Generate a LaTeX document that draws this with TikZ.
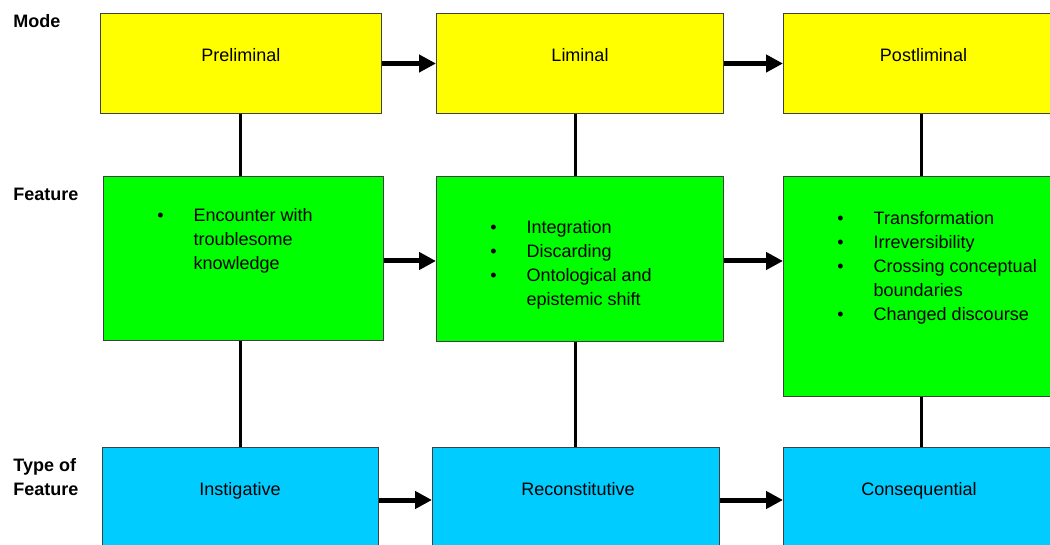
\documentclass[tikz,border=0pt]{standalone}
\usepackage{fontspec}
\setmainfont{Liberation Sans}
\usetikzlibrary{arrows.meta}

\definecolor{modeyellow}{RGB}{255,255,0}
\definecolor{featgreen}{RGB}{0,255,0}
\definecolor{typeblue}{RGB}{0,204,255}

\begin{document}
\begin{tikzpicture}[x = 0.5pt, y = -0.5pt,
  font = \fontsize{9}{12}\selectfont,
  box/.style = {draw=black!75, line width=0.5pt, inner sep=0pt, anchor=north west},
  modebox/.style = {box, fill=modeyellow, minimum height=50pt, text height=7pt, text depth=8.5pt},
  featbox/.style = {box, fill=featgreen},
  typebox/.style = {box, fill=typeblue, minimum height=64pt},
  rowlabel/.style = {font=\fontsize{9}{12}\selectfont\bfseries, anchor=west, align=left, inner sep=0pt},
  listtext/.style = {anchor=base west, inner sep=0pt},
  typetext/.style = {anchor=base, inner sep=0pt},
  link/.style = {line width=1.5pt},
  flow/.style = {line width=2.5pt, -{Triangle[length=8.5pt, width=8.5pt]}}]

% Picture size (in pixels of the original)
\useasboundingbox (0,0) rectangle (1050,545);

% Reference points for the connectors
\coordinate (col1)     at (240, 0);
\coordinate (col2)     at (575, 0);
\coordinate (col3)     at (921, 0);
\coordinate (feat row) at (0, 261);
\coordinate (type row) at (0, 500);

% Row labels
\node[rowlabel] (mode label) at (13, 21)  {Mode};
\node[rowlabel] (feat label) at (13, 194) {Feature};
\node[rowlabel] (type label) at (13, 477) {Type of\\Feature};

% Modes
\node[modebox, minimum width=140.5pt] (prelim)  at (100, 13) {Preliminal};
\node[modebox, minimum width=143.5pt] (liminal) at (436, 13) {Liminal};
\node[modebox, minimum width=140pt]   (postlim) at (783, 13) {Postliminal};

% Features
\node[featbox, minimum width=140pt,   minimum height=82pt]  (feat1) at (103, 176) {};
\node[featbox, minimum width=143.5pt, minimum height=82.5pt] (feat2) at (436, 176) {};
\node[featbox, minimum width=140pt,   minimum height=110pt] (feat3) at (783, 176) {};

\node[listtext] (feat1 text) at (157, 222) {%
  \begin{tabular}[t]{@{}l@{\hspace{15pt}}l@{}}
  \textbullet & Encounter with\\
              & troublesome\\
              & knowledge
  \end{tabular}};
\node[listtext] (feat2 text) at (490, 234) {%
  \begin{tabular}[t]{@{}l@{\hspace{15pt}}l@{}}
  \textbullet & Integration\\
  \textbullet & Discarding\\
  \textbullet & Ontological and\\
              & epistemic shift
  \end{tabular}};
\node[listtext] (feat3 text) at (837, 225) {%
  \begin{tabular}[t]{@{}l@{\hspace{15pt}}l@{}}
  \textbullet & Transformation\\
  \textbullet & Irreversibility\\
  \textbullet & Crossing conceptual\\
              & boundaries\\
  \textbullet & Changed discourse
  \end{tabular}};

% Types of feature (boxes run past the lower edge)
\node[typebox, minimum width=138pt]   (instig box) at (102, 447) {};
\node[typebox, minimum width=143.5pt] (recon box)  at (432, 447) {};
\node[typebox, minimum width=140pt]   (conseq box) at (783, 447) {};

\node[typetext] (instig) at (240, 495) {Instigative};
\node[typetext] (recon)  at (578, 495) {Reconstitutive};
\node[typetext] (conseq) at (919, 495) {Consequential};

% Vertical links
\draw[link] (prelim.south -| col1)  -- (feat1.north -| col1);
\draw[link] (feat1.south -| col1)   -- (instig box.north -| col1);
\draw[link] (liminal.south -| col2) -- (feat2.north -| col2);
\draw[link] (feat2.south -| col2)   -- (recon box.north -| col2);
\draw[link] (postlim.south -| col3) -- (feat3.north -| col3);
\draw[link] (feat3.south -| col3)   -- (conseq box.north -| col3);

% Flow arrows
\draw[flow] (prelim.east)  -- (liminal.west);
\draw[flow] (liminal.east) -- (postlim.west);
\draw[flow] (feat1.east |- feat row) -- (feat2.west |- feat row);
\draw[flow] (feat2.east |- feat row) -- (feat3.west |- feat row);
\draw[flow] (instig box.east |- type row) -- (recon box.west |- type row);
\draw[flow] (recon box.east |- type row)  -- (conseq box.west |- type row);

\end{tikzpicture}
\end{document}
